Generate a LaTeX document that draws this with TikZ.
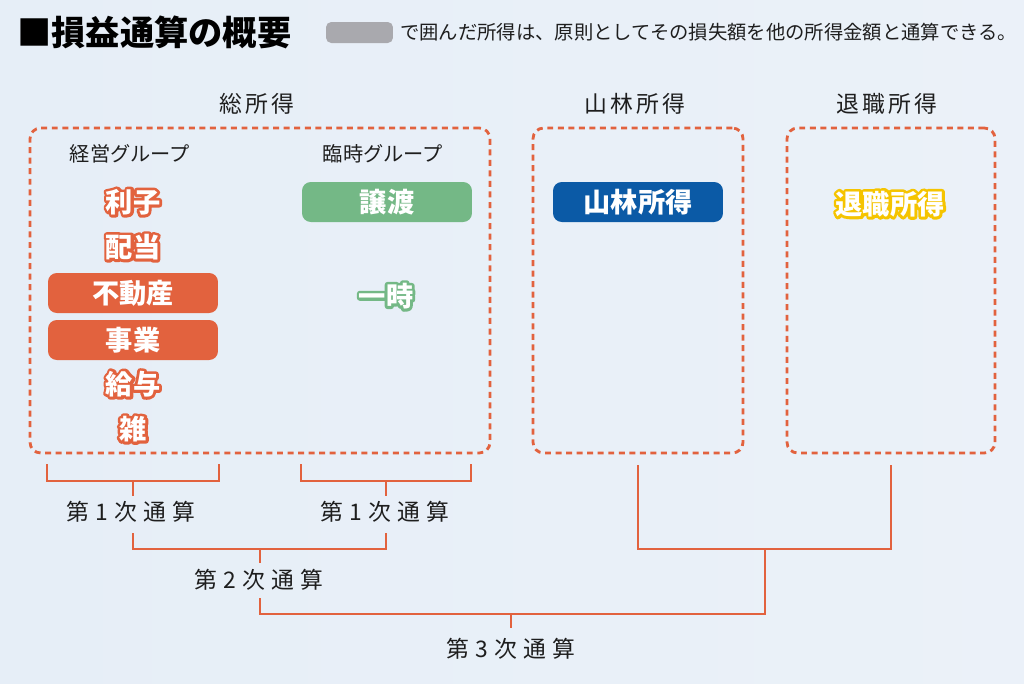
\documentclass[tikz,border=0pt]{standalone}
\usepackage{fontspec}
\setmainfont{Noto Sans CJK JP}
\usetikzlibrary{positioning, calc}
\definecolor{tsuOrange}{HTML}{E2623E}
\definecolor{tsuGreen}{HTML}{74B886}
\definecolor{tsuBlue}{HTML}{0B5AA6}
\definecolor{tsuYellow}{HTML}{F5C400}
\definecolor{tsuGray}{HTML}{A9A9AE}
\definecolor{bgBlue}{HTML}{E6EEF7}
\definecolor{ink}{HTML}{1E1E1E}
% white letters with a coloured rim
\newcommand{\glow}[2]{\makebox[0pt][l]{\color{#1}\special{pdf:literal direct q 2 Tr 3.2 w 1 j 1 J}#2\special{pdf:literal direct Q}}#2}

\begin{document}
\begin{tikzpicture}[x=0.02cm, y=-0.02cm, every node/.style={inner sep=0pt, text=ink},
  frame/.style={draw=tsuOrange, line width=1.6pt, dash pattern=on 3.4pt off 2.6pt, rounded corners=6pt, minimum height=6.5cm},
  head/.style={font=\fontsize{13}{13}\selectfont\addfontfeature{LetterSpace=15}},
  grp/.style={font=\fontsize{11.5}{11.5}\selectfont},
  item/.style={font=\fontsize{15.5}{15.5}\selectfont\bfseries, text=white},
  tag/.style={minimum width=3.4cm, minimum height=0.8cm, rounded corners=5pt},
  orangetag/.style={tag, fill=tsuOrange},
  notag/.style={},
  tsusan/.style={font=\fontsize{13}{13}\selectfont\addfontfeature{LetterSpace=28}},
  link/.style={draw=tsuOrange, line width=1.6pt}]
\useasboundingbox (0,0) rectangle (1024,683);
\shade[left color=bgBlue, middle color=white, right color=bgBlue!80] (0,0) rectangle (1024,683);
%
\node[anchor=west, text=black, font=\fontsize{19.5}{19.5}\selectfont\bfseries] (title) at (17,32) {■損益通算の概要};
\node[fill=tsuGray, minimum width=1.34cm, minimum height=0.42cm, rounded corners=3pt] (key) at (359.5,32.5) {};
\node[right=0.13cm of key, font=\fontsize{11}{11}\selectfont] (note) {で囲んだ所得は、原則としてその損失額を他の所得金額と通算できる。};
%
\node[frame, minimum width=9.2cm] (sou) at (260,290.5) {};
\node[frame, minimum width=4.2cm] (san) at (638,290.5) {};
\node[frame, minimum width=4.16cm] (tai) at (891,290.5) {};
\node[head] (hsou) at (257,104) {総所得};
\node[head] (hsan) at (635,104) {山林所得};
\node[head] (htai) at (887,104) {退職所得};
%
\node[grp] (keiei) at (130,154) {経営グループ};
\node[grp] (rinji) at (383,154) {臨時グループ};
\foreach \t/\y/\s [count=\i] in {利子/202/notag, 配当/247/notag, 不動産/293/orangetag, 事業/340/orangetag, 給与/384/notag, 雑/429/notag}
  \node[item, \s] (k\i) at (133,\y) {\glow{tsuOrange}{\t}};
\node[item, tag, fill=tsuGreen] (jouto) at (387,202) {\glow{tsuGreen}{譲渡}};
\node[item] (ichiji) at (386,296) {\glow{tsuGreen}{一時}};
\node[item, tag, fill=tsuBlue] (sanrin) at (638,202) {山林所得};
\node[item] (taishoku) at (890,204) {\glow{tsuYellow}{退職所得}};
%
\coordinate (l1) at (47,464);   \coordinate (r1) at (219,464);  \coordinate (s1) at (133,481);
\coordinate (l2) at (301,464);  \coordinate (r2) at (471,464);  \coordinate (s2) at (386,481);
\coordinate (l3) at (133,533);  \coordinate (r3) at (386,533);  \coordinate (s3) at (260,549);
\coordinate (l4) at (638,465);  \coordinate (r4) at (891,465);  \coordinate (s4) at (765,549);
\coordinate (l5) at (260,598);  \coordinate (s5) at (511,614);
%
\foreach \i in {1,2,3,4}
  \draw[link] (l\i) |- (s\i) -| (r\i);
\foreach \i/\d in {1/15,2/15,3/14,5/14}
  \draw[link] (s\i) -- ++(0,\d);
\draw[link] (l5) |- (s5) -| (s4);
%
\node[tsusan] (c1) at (131,512) {第1次通算};
\node[tsusan] (c2) at (385,512) {第1次通算};
\node[tsusan] (c3) at (259,580) {第2次通算};
\node[tsusan] (c5) at (511,649) {第3次通算};
\end{tikzpicture}
\end{document}
